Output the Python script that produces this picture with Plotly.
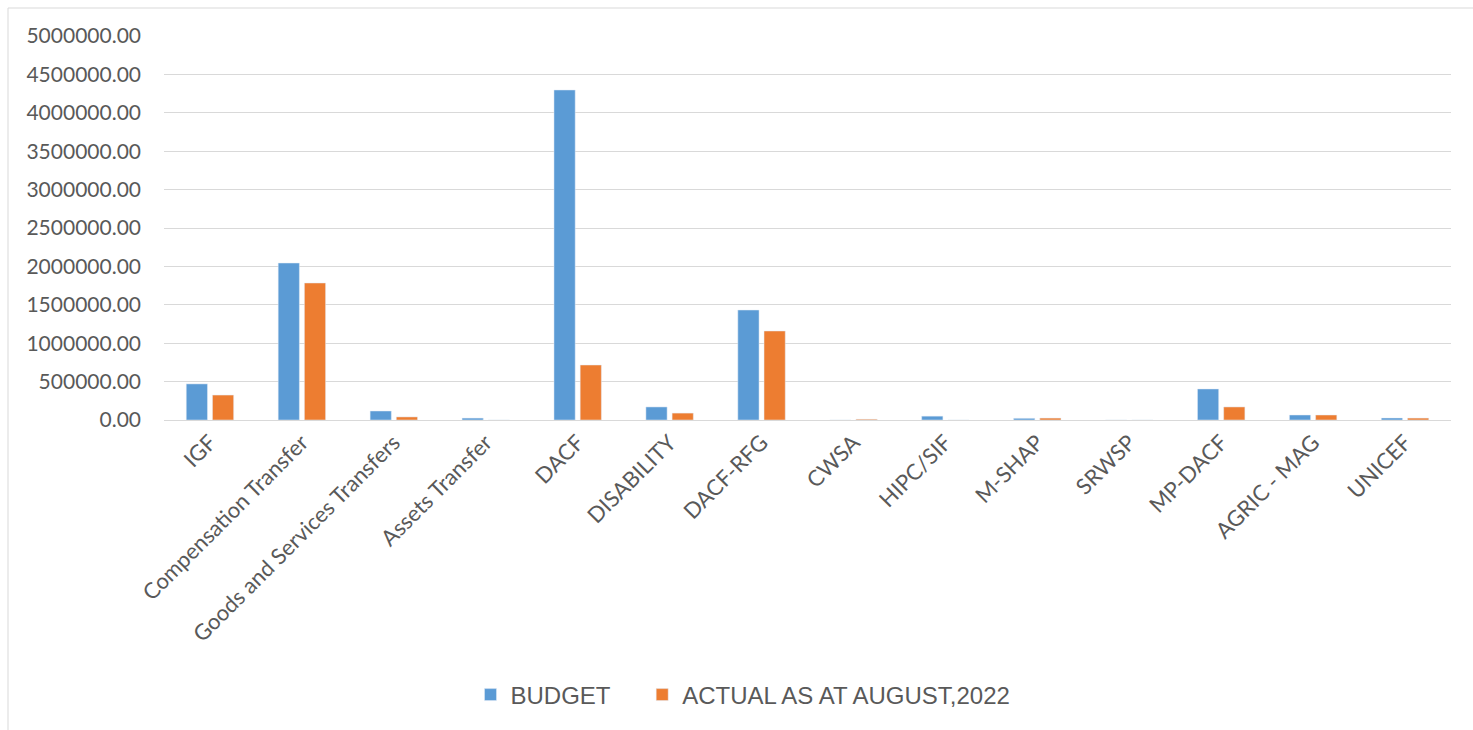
import plotly.graph_objects as go

categories = ["IGF", "Compensation Transfer", "Goods and Services Transfers", "Assets Transfer",
              "DACF", "DISABILITY", "DACF-RFG", "CWSA", "HIPC/SIF", "M-SHAP", "SRWSP",
              "MP-DACF", "AGRIC - MAG", "UNICEF"]
budget = [470000, 2044000, 117000, 25000, 4297000, 170000, 1432000, 0, 50000, 22000, 0,
          404000, 65000, 26000]
actual = [325000, 1784000, 40000, 0, 716000, 90000, 1159000, 10000, 0, 25000, 0,
          170000, 65000, 25000]

fig = go.Figure()
fig.add_trace(go.Bar(x=categories, y=budget, name="BUDGET&nbsp;&nbsp;&nbsp;&nbsp;", marker_color="#5B9BD5"))
fig.add_trace(go.Bar(x=categories, y=actual, name="ACTUAL AS AT AUGUST,2022", marker_color="#ED7D31"))

L, R, T, B = 164, 22, 36, 310
W, H = 1473, 730
pw, ph = W - L - R, H - T - B

fig.update_layout(
    width=W, height=H,
    margin=dict(l=L, r=R, t=T, b=B),
    paper_bgcolor="white", plot_bgcolor="white",
    barmode="group", bargap=0.43, bargroupgap=0.19,
    font=dict(family="Lato", color="#595959"),
    legend=dict(orientation="h", x=(743 - L) / pw, xanchor="center", y=-(695 - 420) / ph, yanchor="middle",
                font=dict(family="Liberation Sans", size=24, color="#595959"),
                itemwidth=30, tracegroupgap=0),
    shapes=[dict(type="rect", xref="paper", yref="paper",
                 x0=(8 - L) / pw, x1=1 + 40 / pw, y0=-(B + 20) / ph, y1=1 + 28 / ph,
                 line=dict(color="#D9D9D9", width=1), fillcolor="rgba(0,0,0,0)", layer="below")],
)
fig.update_yaxes(range=[0, 5000000], dtick=500000, tickformat=".2f",
                 showgrid=True, gridcolor="#D9D9D9", gridwidth=1,
                 zeroline=True, zerolinecolor="#D9D9D9", zerolinewidth=1,
                 tickfont=dict(family="Lato", size=21, color="#595959"), ticklabelstandoff=22,
                 showline=False)
fig.update_xaxes(tickangle=-45, tickfont=dict(family="Lato", size=22, color="#595959"),
                 showline=True, linecolor="#D9D9D9", linewidth=1, ticks="")

fig.write_html("out.html")
